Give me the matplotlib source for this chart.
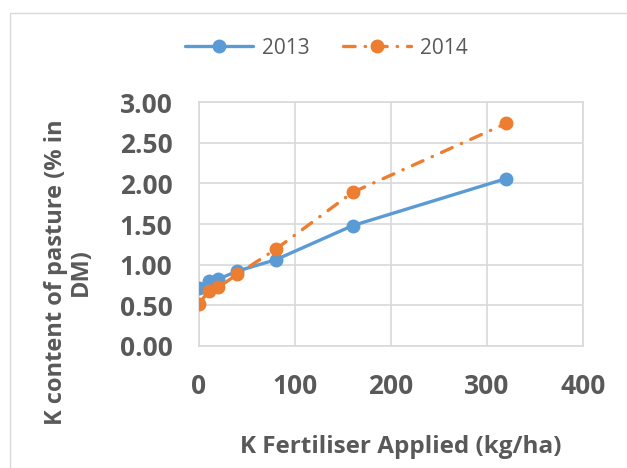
import matplotlib
matplotlib.use("Agg")
import matplotlib.pyplot as plt
from matplotlib.patches import Rectangle

plt.rcParams['font.family'] = ['Open Sans', 'DejaVu Sans']

# data
k_applied = [0, 10, 20, 40, 80, 160, 320]
k_2013 = [0.71, 0.80, 0.82, 0.92, 1.06, 1.48, 2.06]
k_2014 = [0.52, 0.67, 0.72, 0.88, 1.19, 1.89, 2.74]
y_ticks = [0.0, 0.5, 1.0, 1.5, 2.0, 2.5, 3.0]
x_ticks = [0, 100, 200, 300, 400]

BLUE = '#5B9BD5'
ORANGE = '#ED7D31'
GRID = '#D9D9D9'
TEXT = '#595959'

fig = plt.figure(figsize=(6.27, 4.68), dpi=100)
ax = fig.add_axes([0.3174, 0.2613, 0.6124, 0.5201])

# outer chart border
fig.patches.append(Rectangle((10 / 627, -0.05), 1.0, 1 - 13 / 468 + 0.05,
                             transform=fig.transFigure, fill=False,
                             edgecolor=GRID, linewidth=1))

ax.plot(k_applied, k_2013, color=BLUE, linewidth=2.4, marker='o',
        markersize=9, label='2013', solid_capstyle='round', zorder=3)
ax.plot(k_applied, k_2014, color=ORANGE, linewidth=2.4, marker='o',
        markersize=9, label='2014', linestyle=(0, (3.5, 3.0, 0.1, 3.0)),
        dash_capstyle='round', zorder=4)

ax.set_xlim(0, 400)
ax.set_ylim(0, 3)
ax.set_xticks(x_ticks)
ax.set_yticks(y_ticks)
ax.set_yticklabels([f'{v:.2f}' for v in y_ticks])
ax.grid(True, color=GRID, linewidth=1.2, zorder=0)
ax.set_axisbelow(True)
for sp in ax.spines.values():
    sp.set_color(GRID)
    sp.set_linewidth(1.2)
ax.tick_params(length=0, labelsize=19, labelcolor=TEXT)
ax.tick_params(axis='y', pad=19)
ax.tick_params(axis='x', pad=20)
for lab in ax.get_xticklabels() + ax.get_yticklabels():
    lab.set_fontweight('bold')

fig.text(68 / 627, 1 - 272 / 468, 'K content of pasture (% in\nDM)',
         rotation=90, ha='center', va='center', multialignment='center',
         fontsize=17, fontweight='bold', color=TEXT, linespacing=1.05)
fig.text(401 / 627, 1 - 447 / 468, 'K Fertiliser Applied (kg/ha)',
         ha='center', va='center', fontsize=17.5, fontweight='bold', color=TEXT)

leg = fig.legend(loc='center', bbox_to_anchor=(0.52, 1 - 48 / 468), ncol=2,
                 frameon=False, fontsize=15, handlelength=3.3,
                 columnspacing=1.6, handletextpad=0.4)
for t in leg.get_texts():
    t.set_color(TEXT)

plt.savefig('out.png', dpi=100)
